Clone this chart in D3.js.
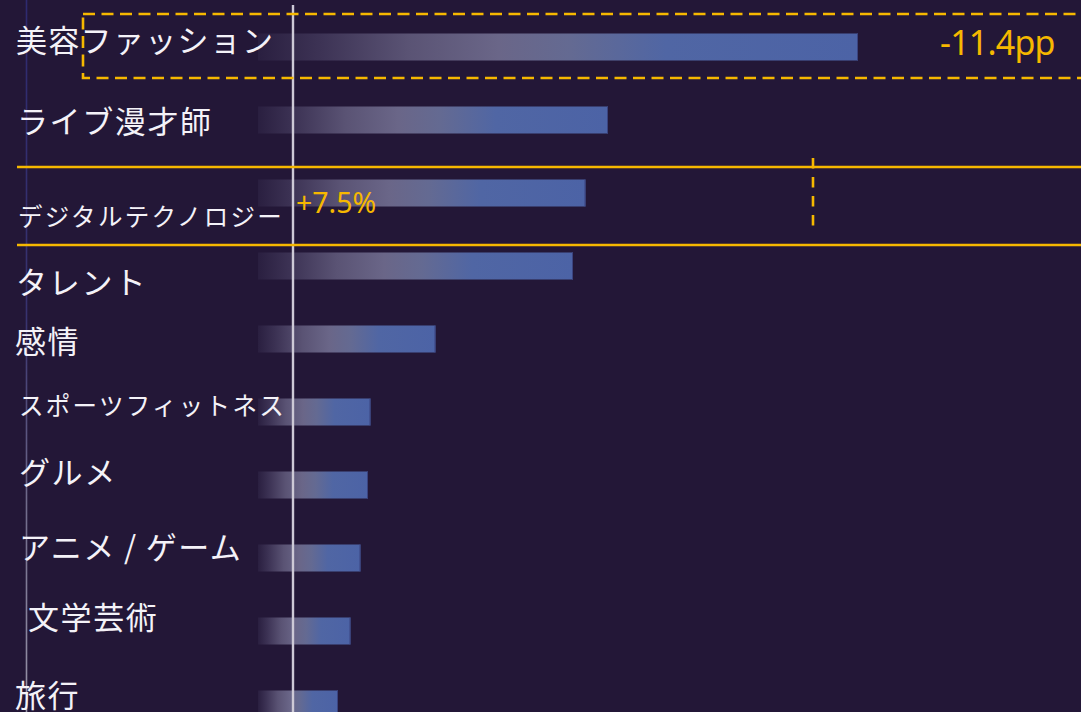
<!DOCTYPE html>
<html>
<head>
<meta charset="utf-8">
<script src="https://cdn.jsdelivr.net/npm/d3@7"></script>
<style>
  html, body { margin: 0; padding: 0; background: #231737; overflow: hidden; }
  svg { display: block; }
</style>
</head>
<body>
<svg id="chart" width="1081" height="712"></svg>
<script>
// Category shares (%), top to bottom
const categories = [
  "美容ファッション", "ライブ漫才師", "デジタルテクノロジー", "タレント", "感情",
  "スポーツフィットネス", "グルメ", "アニメ / ゲーム", "文学芸術", "旅行"
];
const shares = [24.0, 14.0, 13.1, 12.6, 7.1, 4.5, 4.4, 4.1, 3.7, 3.2];

// Reference markers on the value axis
const referenceValue = 1.4;
const targetValue = 22.2;

// Callout texts
const highlightCategory = "美容ファッション";
const highlightLabel = "-11.4pp";
const focusCategory = "デジタルテクノロジー";
const focusLabel = "+7.5%";

// ---- layout ----
const W = 1081, H = 712;
const BG = "#231737";
const GOLD = "#f6b800";

const svg = d3.select("#chart");
svg.append("rect").attr("width", W).attr("height", H).attr("fill", BG);

const x = d3.scaleLinear().domain([0, 25]).range([258, 883]);
const y = d3.scaleBand()
  .domain(categories)
  .range([10.5, 740.5])
  .paddingInner(0.63)
  .paddingOuter(0.315);

const defs = svg.append("defs");

// bar fill: fades in from the background into lavender-grey, then blue
const barGrad = defs.append("linearGradient").attr("id", "barGrad")
  .attr("x1", 0).attr("x2", 1).attr("y1", 0).attr("y2", 0);
[
  [0.00, "#2a1f40"],
  [0.10, "#3c3254"],
  [0.25, "#5a5374"],
  [0.40, "#6a6688"],
  [0.52, "#646a92"],
  [0.68, "#5066a4"],
  [1.00, "#4c63a6"]
].forEach(([o, c]) => barGrad.append("stop").attr("offset", o).attr("stop-color", c));

// axis rule: deep violet at top, greying toward the bottom
const axisGrad = defs.append("linearGradient").attr("id", "axisGrad")
  .attr("gradientUnits", "userSpaceOnUse")
  .attr("x1", 0).attr("x2", 0).attr("y1", 0).attr("y2", H);
[
  [0.00, "#2e2a70"],
  [0.45, "#38336f"],
  [0.70, "#6f6a8a"],
  [1.00, "#9894a8"]
].forEach(([o, c]) => axisGrad.append("stop").attr("offset", o).attr("stop-color", c));

svg.append("line")
  .attr("x1", 26.5).attr("x2", 26.5).attr("y1", 0).attr("y2", H)
  .attr("stroke", "url(#axisGrad)").attr("stroke-width", 1.6);

const rows = categories.map((c, i) => ({ c, v: shares[i] }));

// bars
svg.append("g").selectAll("rect")
  .data(rows)
  .join("rect")
  .attr("x", x(0))
  .attr("y", d => y(d.c))
  .attr("width", d => x(d.v) - x(0))
  .attr("height", y.bandwidth())
  .attr("fill", "url(#barGrad)");

// right-edge accent on each bar
svg.append("g").selectAll("line")
  .data(rows)
  .join("line")
  .attr("x1", d => x(d.v) - 0.5).attr("x2", d => x(d.v) - 0.5)
  .attr("y1", d => y(d.c)).attr("y2", d => y(d.c) + y.bandwidth())
  .attr("stroke", "#3b4480").attr("stroke-width", 1);

// category labels (hand-set nudges per row)
const labelLayout = [
  { x: 16, dy: -6,  size: 31,   ls: 1.3, ws: 0 },
  { x: 17, dy: 2,   size: 31,   ls: 1.6, ws: 0 },
  { x: 18, dy: 24,  size: 24.5, ls: 2.3, ws: 0 },
  { x: 16, dy: 17,  size: 31,   ls: 1.8, ws: 0 },
  { x: 15, dy: 3,   size: 31,   ls: 1.6, ws: 0 },
  { x: 19, dy: -6,  size: 24.5, ls: 2.3, ws: 0 },
  { x: 19, dy: -12, size: 31,   ls: 1.6, ws: 0 },
  { x: 19, dy: -10, size: 31,   ls: 1.4, ws: 0 },
  { x: 28, dy: -13, size: 31,   ls: 1.6, ws: 0 },
  { x: 15, dy: -8,  size: 31,   ls: 1.6, ws: 0 }
];
svg.append("g").selectAll("text")
  .data(categories)
  .join("text")
  .attr("x", (d, i) => labelLayout[i].x)
  .attr("y", (d, i) => y(d) + y.bandwidth() / 2 + labelLayout[i].dy + 0.37 * labelLayout[i].size)
  .attr("font-family", "'Noto Sans CJK JP', 'Noto Sans', sans-serif")
  .attr("font-size", (d, i) => labelLayout[i].size)
  .attr("letter-spacing", (d, i) => labelLayout[i].ls)
  .attr("word-spacing", (d, i) => labelLayout[i].ws)
  .attr("fill", "#f4f2f8")
  .text(d => d);

// reference rule
svg.append("line")
  .attr("x1", x(referenceValue)).attr("x2", x(referenceValue))
  .attr("y1", 5).attr("y2", H)
  .attr("stroke", "#cdc9d6").attr("stroke-width", 2.4);

// highlight box around the top row
const hy = y(highlightCategory);
svg.append("rect")
  .attr("x", 83).attr("y", hy - 19.5)
  .attr("width", 1100).attr("height", y.bandwidth() + 37)
  .attr("fill", "none")
  .attr("stroke", GOLD).attr("stroke-width", 2.6)
  .attr("stroke-dasharray", "12,6.5");

svg.append("text")
  .attr("x", 940).attr("y", hy + y.bandwidth() / 2 + 8)
  .attr("font-family", "'Noto Sans', sans-serif")
  .attr("font-size", 34)
  .attr("letter-spacing", -0.8)
  .attr("fill", GOLD)
  .text(highlightLabel);

// focus band around the third row
const fy = y(focusCategory);
svg.append("g").selectAll("line")
  .data([fy - 12.5, fy + 65.5])
  .join("line")
  .attr("x1", 17).attr("x2", W)
  .attr("y1", d => d).attr("y2", d => d)
  .attr("stroke", GOLD).attr("stroke-width", 2.6);

svg.append("line")
  .attr("x1", x(targetValue)).attr("x2", x(targetValue))
  .attr("y1", fy - 21.5).attr("y2", fy + 46.5)
  .attr("stroke", GOLD).attr("stroke-width", 2.6)
  .attr("stroke-dasharray", "10.5,8.5");

svg.append("text")
  .attr("x", x(referenceValue) + 3).attr("y", fy + 34)
  .attr("font-family", "'Noto Sans', sans-serif")
  .attr("font-size", 28.5)
  .attr("fill", GOLD)
  .text(focusLabel);
</script>
</body>
</html>
